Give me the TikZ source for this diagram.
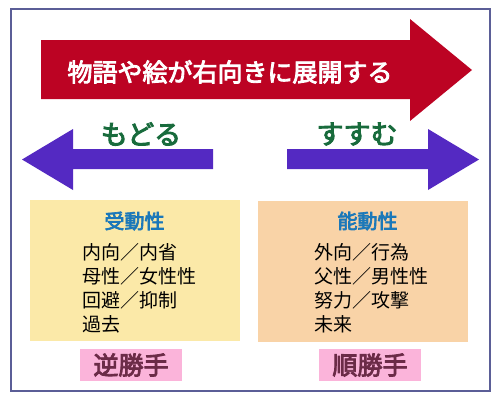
\documentclass[tikz,border=0pt]{standalone}
\usepackage{fontspec}
\setmainfont{Noto Sans CJK JP}
\newfontfamily\jpbold[FakeBold=3.5]{Noto Sans CJK JP}
\usepackage{tikz}
\usetikzlibrary{positioning}

\definecolor{framecol}{HTML}{5B5E97}
\definecolor{redarrow}{HTML}{BC0323}
\definecolor{purplearrow}{HTML}{5429C2}
\definecolor{greentext}{HTML}{186B3C}
\definecolor{bluetext}{HTML}{1B78B9}
\definecolor{passivebg}{HTML}{FBE9A8}
\definecolor{activebg}{HTML}{F9D3A7}
\definecolor{labelbg}{HTML}{FBB4DA}
\definecolor{labeltext}{HTML}{6B2B47}

\begin{document}
\begin{tikzpicture}[x=1pt, y=-1pt]
\tikzstyle{bigarrow} = [fill=redarrow, draw=none]
\tikzstyle{smallarrow} = [fill=purplearrow, draw=none]
\tikzstyle{panel} = [rectangle, draw=none, minimum width=210pt, minimum height=141pt, inner sep=0pt]
\tikzstyle{heading} = [text=greentext, font=\jpbold\fontsize{27}{27}\selectfont]
\tikzstyle{title} = [text=bluetext, font=\jpbold\fontsize{20}{20}\selectfont]
\tikzstyle{body} = [align=left, anchor=north west, inner sep=0pt, font=\fontsize{19}{25}\selectfont]
\tikzstyle{tag} = [rectangle, fill=labelbg, minimum width=102pt, minimum height=32pt, text=labeltext, font=\jpbold\fontsize{25}{25}\selectfont]

\useasboundingbox (0,0) rectangle (500,400);
\draw [framecol, line width=2pt] (11,9) rectangle (490,391);

% Arrows
\fill [bigarrow] (41,40) -- (410,40) -- (410,19) -- (472,70) -- (410,121) -- (410,99) -- (41,99) -- cycle;
\fill [smallarrow] (213,149) -- (73,149) -- (73,129) -- (22,159.5) -- (73,190) -- (73,169) -- (213,169) -- cycle;
\fill [smallarrow] (287,149) -- (428,149) -- (428,129) -- (479,159.5) -- (428,190) -- (428,169) -- (287,169) -- cycle;

\node (story) [text=white, font=\jpbold\fontsize{25}{25}\selectfont] at (230,72) {物語や絵が右向きに展開する};
\node (back) [heading] at (141,134) {もどる};
\node (forward) [heading] at (357,134) {すすむ};

% Panels
\node (passive) [panel, fill=passivebg] at (135,270.5) {};
\node (active) [panel, fill=activebg] at (363,271.5) {};

\node (passivetitle) [title] at (134.5,221) {受動性};
\node (activetitle) [title] at (367.5,221) {能動性};

\node (passivebody) [body] at (82,243) {内向／内省\\[-1pt]母性／女性性\\[-1pt]回避／抑制\\[-1pt]過去};
\node (activebody) [body] at (314,243) {外向／行為\\[-1pt]父性／男性性\\[-1pt]努力／攻撃\\[-1pt]未来};

% Labels
\node (reverse) [tag] at (131,365) {逆勝手};
\node (normal) [tag] at (370,365) {順勝手};
\end{tikzpicture}
\end{document}
